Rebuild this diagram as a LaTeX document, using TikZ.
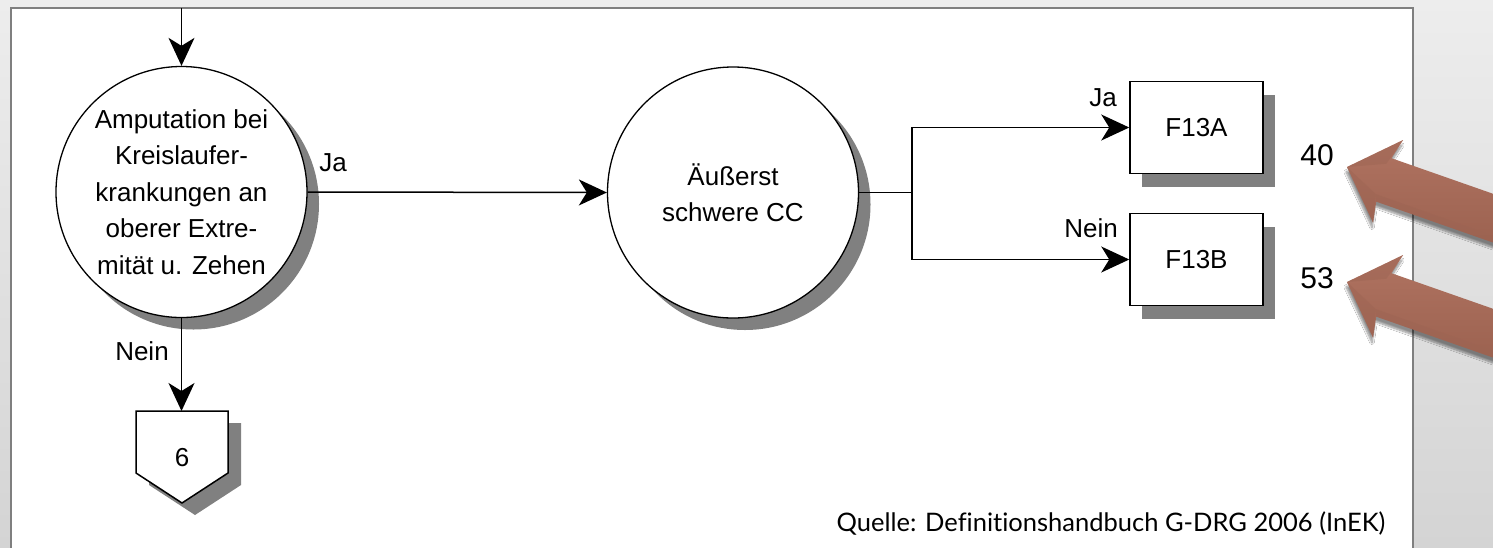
\documentclass[tikz,border=0pt]{standalone}
\usepackage{fontspec}
\setmainfont{Liberation Sans}
\newfontfamily\notefont[Ligatures=NoCommon]{Lato}
\usetikzlibrary{arrows.meta,shadows,shadows.blur}
\definecolor{bgtop}{HTML}{EDEDED}
\definecolor{bgbot}{HTML}{D4D4D4}
\definecolor{frame}{HTML}{7F7F7F}
\definecolor{shadowgray}{HTML}{808080}
\definecolor{brownlight}{HTML}{C6846D}
\definecolor{browntop}{HTML}{B07361}
\definecolor{browndark}{HTML}{975E4C}
\definecolor{brownfacet}{HTML}{9C6453}
\begin{document}
\begin{tikzpicture}[x=1pt,y=-1pt,
  lbl/.style={inner sep=0pt, font=\fontsize{26}{30}\selectfont},
  count/.style={inner sep=0pt, font=\fontsize{30}{34}\selectfont},
  decision/.style={circle, draw, line width=1.3pt, fill=white, minimum size=251pt,
    inner sep=0pt, align=center, font=\fontsize{26}{36.5}\selectfont,
    drop shadow={shadow xshift=12pt, shadow yshift=-12pt, fill=shadowgray, opacity=1}},
  drgbox/.style={rectangle, draw, line width=1.5pt, fill=white, minimum width=133pt,
    minimum height=92pt, inner sep=0pt, font=\fontsize{26}{30}\selectfont,
    drop shadow={shadow xshift=12pt, shadow yshift=-13pt, fill=shadowgray, opacity=1}},
  flow/.style={line width=1.5pt, -{Stealth[length=28pt,width=26pt,inset=8pt]}},
  link/.style={line width=1.5pt},
  pointerbody/.style={top color=browntop, middle color=brownlight, bottom color=browndark,
    blur shadow={shadow xshift=-1pt, shadow yshift=-5pt, shadow blur steps=8, shadow opacity=45}},
  facet/.style={fill=brownfacet, opacity=0.45},
]
\useasboundingbox (0,0) rectangle (1493,547);
\clip (0,0) rectangle (1493,547);

% slide background and white page
\shade[top color=bgtop, bottom color=bgbot] (0,0) rectangle (1493,547);
\draw[frame, line width=2.5pt, fill=white] (11,8) rectangle (1413,580);

% decision nodes
\node[decision] (amp) at (181.5,192)
  {Amputation bei\\Kreislaufer-\\krankungen an\\oberer Extre-\\mität u. Zehen};
\node[decision] (cc) at (733,192.5) {Äußerst\\schwere CC};

% result boxes
\node[drgbox] (fa) at (1196.5,127.5) {F13A};
\node[drgbox] (fb) at (1196.5,259.5) {F13B};

% off-page connector to page 6
\fill[shadowgray] (149,423) -- (241,423) -- (241,485) -- (195,515) -- (149,485) -- cycle;
\draw[line width=1.5pt, fill=white] (136,411) -- (228,411) -- (228,473) -- (182,503) -- (136,473) -- cycle;
\node[lbl] (off6) at (182,458) {6};

% connectors
\coordinate (entry) at (181.5,8);
\coordinate (exit) at (181.5,411);
\coordinate (fork) at (912,192.5);
\draw[flow] (entry) -- (amp.north);
\draw[flow] (amp.east) -- (cc.west);
\draw[flow] (amp.south) -- (exit);
\draw[link] (cc.east) -- (fork);
\draw[flow] (fork) |- (fa.west);
\draw[flow] (fork) |- (fb.west);

% branch labels
\node[lbl] (ja1) at (333,163) {Ja};
\node[lbl] (nein1) at (142,351) {Nein};
\node[lbl] (ja2) at (1103,98) {Ja};
\node[lbl] (nein2) at (1091,228) {Nein};

% case numbers
\node[count] (n40) at (1317,155) {40};
\node[count] (n53) at (1317,278) {53};

% brown pointers with bevelled head facets
\foreach \py in {167,282} {
  \begin{scope}[shift={(1347,\py)}, rotate=-19.3]
    \path[pointerbody] (0,0) -- (44,-44) -- (39,-23) -- (240,-23) -- (240,23) -- (39,23) -- (43,44) -- cycle;
    \fill[facet] (0,0) -- (44,-44) -- (36,-16) -- cycle;
    \fill[facet] (0,0) -- (43,44) -- (36,16) -- cycle;
    \fill[facet] (39,23) -- (240,23) -- (240,17) -- (36,16) -- cycle;
  \end{scope}
}

% source note
\node[inner sep=0pt, font=\notefont\fontsize{25.5}{28}\selectfont] (src) at (1111,523)
  {Quelle: Definitionshandbuch G-DRG 2006 (InEK)};
\end{tikzpicture}
\end{document}
